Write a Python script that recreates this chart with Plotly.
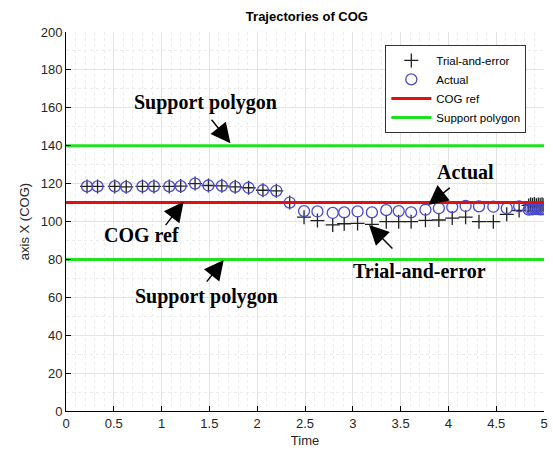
import plotly.graph_objects as go

time = [0.22, 0.33, 0.51, 0.63, 0.80, 0.92, 1.08, 1.20, 1.35, 1.49, 1.63, 1.77,
        1.91, 2.06, 2.20, 2.34, 2.49, 2.63, 2.79, 2.91, 3.05, 3.20, 3.35, 3.48,
        3.61, 3.76, 3.90, 4.04, 4.18, 4.32, 4.47, 4.61, 4.74,
        4.84, 4.86, 4.88, 4.90, 4.92, 4.94, 4.96, 4.98, 5.00]
actual = [118.5, 118.5, 118.5, 118.3, 118.5, 118.5, 118.5, 118.7, 120.0, 119.0, 118.8, 118.3,
          117.8, 116.5, 116.2, 110.0, 105.5, 105.3, 104.5, 104.8, 105.3, 104.8, 106.0, 105.5,
          104.8, 106.2, 107.0, 107.6, 108.2, 108.0, 107.8, 107.0, 108.0,
          106.3, 106.6, 106.4, 106.7, 106.5, 106.6, 106.4, 106.5, 106.6]
trial = [118.5, 118.5, 118.5, 118.3, 118.5, 118.5, 118.5, 118.7, 120.0, 119.0, 118.8, 118.3,
         117.8, 116.5, 116.2, 110.0, 102.3, 100.5, 98.2, 98.8, 99.0, 98.5, 99.9, 99.9,
         99.9, 100.6, 100.8, 101.8, 102.3, 99.9, 99.9, 103.8, 105.8,
         108.5, 109.0, 108.8, 109.2, 108.6, 109.0, 108.8, 109.1, 108.7]
cog_ref = 110
support = [140, 80]
x_range = [0, 5]

fig = go.Figure()
fig.add_trace(go.Scatter(x=time, y=trial, mode="markers", name="Trial-and-error",
                         marker=dict(symbol="cross-thin-open", size=10, color="#202020",
                                     line=dict(color="#202020", width=1.3))))
fig.add_trace(go.Scatter(x=time, y=actual, mode="markers", name="Actual",
                         marker=dict(symbol="circle-open", size=11, color="#4a4ad0",
                                     line=dict(color="#4a4ad0", width=1.3))))
fig.add_trace(go.Scatter(x=x_range, y=[cog_ref, cog_ref], mode="lines", name="COG ref",
                         line=dict(color="#e01010", width=3)))
fig.add_trace(go.Scatter(x=x_range, y=[support[0], support[0]], mode="lines",
                         name="Support polygon", line=dict(color="#20e020", width=3)))
fig.add_trace(go.Scatter(x=x_range, y=[support[1], support[1]], mode="lines",
                         showlegend=False, line=dict(color="#20e020", width=3)))

tfont = dict(family="Liberation Serif, Times New Roman, serif", size=20, color="black")
labels = [
    ("<b>Support polygon</b>", 1.46, 163.0, 1.72, 141.3, 1.51, 154.5),
    ("<b>COG ref</b>", 0.79, 92.9, 1.23, 110.4, 1.03, 97.3),
    ("<b>Support polygon</b>", 1.47, 60.2, 1.65, 79.7, 1.46, 67.5),
    ("<b>Actual</b>", 4.18, 125.9, 3.79, 108.7, 4.03, 118.4),
    ("<b>Trial-and-error</b>", 3.70, 74.1, 3.17, 98.2, 3.43, 85.0),
]
for txt, tx, ty, hx, hy, ax, ay in labels:
    fig.add_annotation(x=tx, y=ty, text=txt, showarrow=False, font=tfont)
    fig.add_annotation(x=hx, y=hy, ax=ax, ay=ay, axref="x", ayref="y", text="",
                       showarrow=True, arrowhead=2, arrowsize=2.8, arrowwidth=1.4,
                       arrowcolor="black", standoff=0)

grid = "#e3e3e3"
fig.update_xaxes(range=[0, 5], dtick=0.5, showline=True, linecolor="black", linewidth=1,
                 ticks="inside", ticklen=5, tickcolor="black", showgrid=True, gridcolor=grid,
                 minor=dict(dtick=0.1, showgrid=True, gridcolor="#ececec", griddash="dot"),
                 zeroline=False, title=dict(text="Time", font=dict(size=13, color="#262626"),
                                            standoff=6),
                 tickfont=dict(size=13, color="#262626"))
fig.update_yaxes(range=[0, 200], dtick=20, showline=True, linecolor="black", linewidth=1,
                 ticks="inside", ticklen=5, tickcolor="black", showgrid=True, gridcolor=grid,
                 minor=dict(dtick=10, showgrid=True, gridcolor="#ececec", griddash="dot"),
                 zeroline=False, title=dict(text="axis X (COG)", font=dict(size=13, color="#262626"),
                                            standoff=8),
                 tickfont=dict(size=13, color="#262626"))

fig.update_layout(
    width=553, height=457,
    margin=dict(l=66, r=5, t=32, b=46),
    paper_bgcolor="white", plot_bgcolor="white",
    font=dict(family="Liberation Sans, Arial, sans-serif"),
    title=dict(text="<b>Trajectories of COG</b>", x=0.555, xanchor="center", y=0.965,
               yanchor="middle", font=dict(size=13, color="black")),
    legend=dict(x=0.963, y=0.966, xanchor="right", yanchor="top",
                bgcolor="white", bordercolor="#333333", borderwidth=1,
                font=dict(size=11.5, color="black"), tracegroupgap=0,
                itemwidth=40),
    showlegend=True,
)

fig.write_html("out.html")
